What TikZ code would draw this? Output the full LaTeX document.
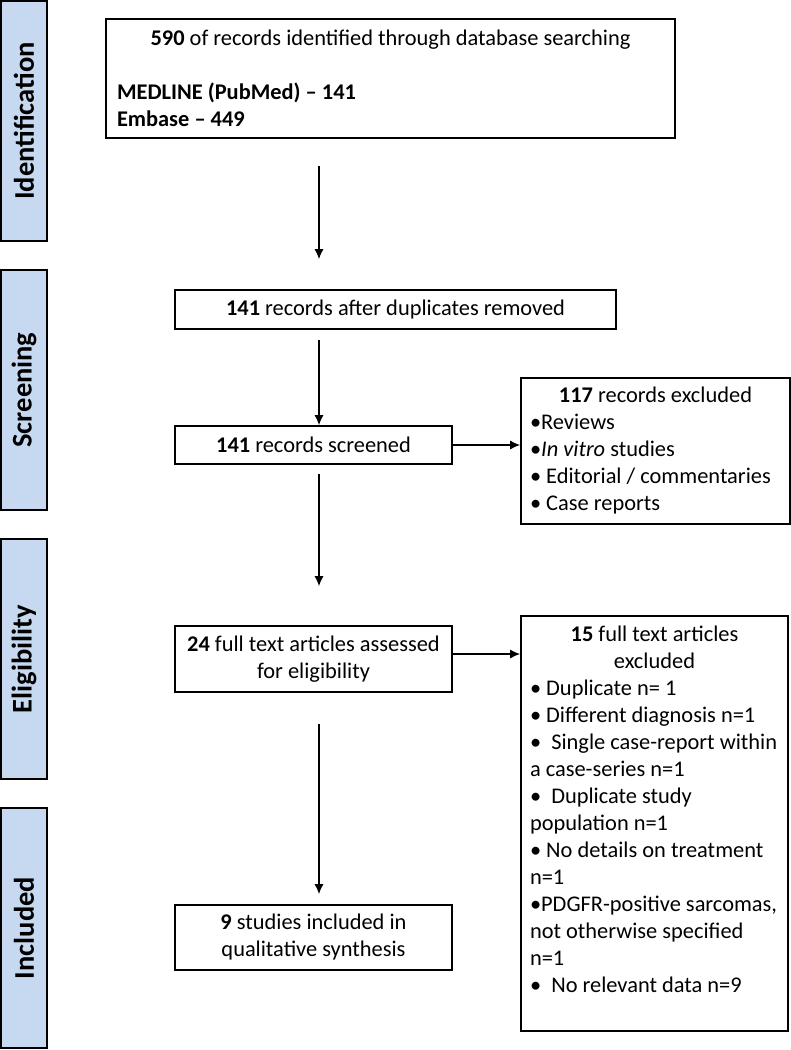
\documentclass[tikz,border=0pt]{standalone}
\usepackage{fontspec}
\setmainfont{Carlito}
\usetikzlibrary{arrows.meta,calc}
\tikzset{>={Latex[length=10pt,width=9pt]}}
\definecolor{phaseblue}{HTML}{C6D9F0}
\tikzstyle{phase}=[rectangle,draw=black,fill=phaseblue,line width=2pt,minimum width=240pt,minimum height=46pt,inner sep=0pt]
\tikzstyle{stage}=[rectangle,draw=black,line width=1.6pt,align=center,inner sep=4pt]
\tikzstyle{excl}=[rectangle,draw=black,line width=1.6pt,align=flush left,inner xsep=9pt,inner ysep=4pt]
\tikzstyle{flow}=[->,line width=1.4pt]

\begin{document}
\begin{tikzpicture}[x=1pt,y=-1pt,font=\fontsize{22.4}{27}\selectfont]
\def \barx {24};
\def \gap {269};
\def \mid {313.5};

\useasboundingbox (0,0) rectangle (791,1050);

% phase bars on the left
\foreach \lab [count=\i] in {Identification,Screening,Eligibility,Included} {
	\node[phase,rotate=90] (ph\i) at (\barx, {121 + (\i-1)*\gap})
	{\fontsize{28.5}{30}\selectfont\bfseries \lab};
};

\node[stage,align=flush left,text width=547pt,minimum height=119pt,inner xsep=11pt] (id) at (390.5,78.5)
{{\centering\textbf{590} of records identified through database searching\par}
\vspace{27pt}
\textbf{MEDLINE (PubMed) – 141}\\
\textbf{Embase – 449}};

\node[stage,minimum width=441pt,minimum height=39pt] (dup) at (395.5,309.5)
{\textbf{141} records after duplicates removed};

\node[stage,minimum width=277pt,minimum height=38pt] (scr) at (\mid,445)
{\textbf{141} records screened};

\node[stage,minimum width=277pt,minimum height=66pt] (elig) at (\mid,659)
{\textbf{24} full text articles assessed\\ for eligibility};

\node[stage,minimum width=277pt,minimum height=65pt] (inc) at (\mid,937.5)
{\textbf{9} studies included in\\ qualitative synthesis};

\node[excl,text width=251pt,minimum height=146pt] (exs) at (655.5,451)
{{\centering\textbf{117} records excluded\par}
•Reviews\\
•\textit{In vitro} studies\\
• Editorial / commentaries\\
• Case reports};

\node[excl,text width=249pt,minimum height=415pt] (exf) at (654.5,823.5)
{{\centering\textbf{15} full text articles\\ excluded\par}
• Duplicate n= 1\\
• Different diagnosis n=1\\
•\ \ Single case-report within\\
a case-series n=1\\
•\ \ Duplicate study\\
population n=1\\
• No details on treatment\\
n=1\\
•PDGFR-positive sarcomas,\\
not otherwise specified\\
n=1\\
•\ \ No relevant data n=9\rule[-29pt]{0pt}{29pt}};

% arrows
\coordinate (col) at (319,0);
\draw[flow,shorten <=27pt,shorten >=30pt] (id.south -| col) -- (dup.north -| col);
\draw[flow,shorten <=10pt] (dup.south -| col) -- (scr.north -| col);
\draw[flow,shorten <=9pt,shorten >=39pt] (scr.south -| col) -- (elig.north -| col);
\draw[flow,shorten <=31pt,shorten >=10pt] (elig.south -| col) -- (inc.north -| col);
\draw[flow] (scr.east) -- (scr.east -| exs.west);
\draw[flow] ([yshift=5pt]elig.east) -- ([yshift=5pt]elig.east -| exf.west);

\end{tikzpicture}
\end{document}
